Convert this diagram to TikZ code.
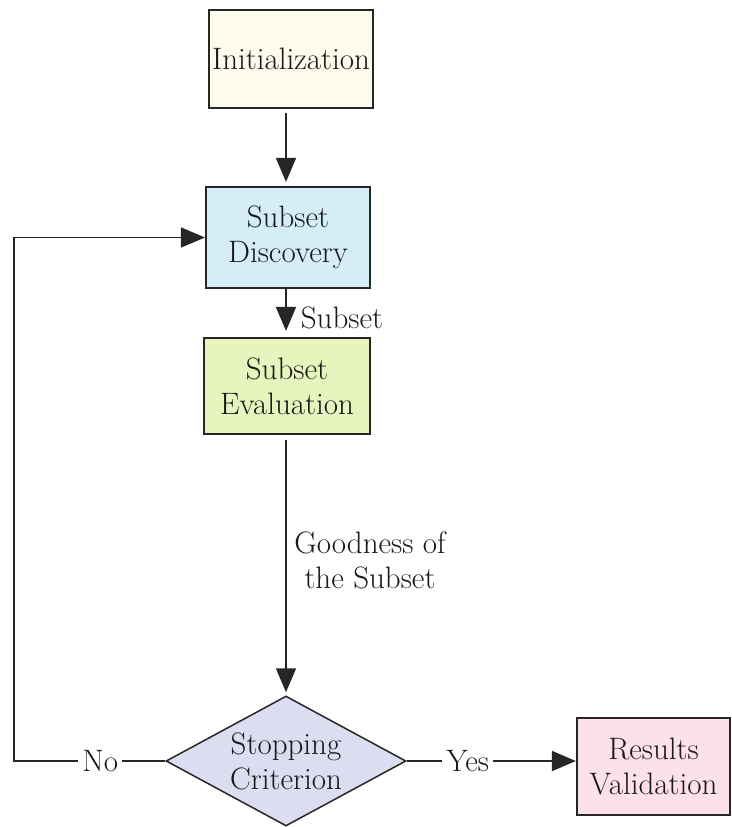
\documentclass[tikz,border=0pt]{standalone}
\usepackage{fontspec}
\usetikzlibrary{arrows.meta,shapes.geometric}
\definecolor{initc}{HTML}{FCFBEC}
\definecolor{discc}{HTML}{D4EDF7}
\definecolor{evalc}{HTML}{E8F4BE}
\definecolor{diac}{HTML}{DDDDF2}
\definecolor{resc}{HTML}{FCE1E8}
\begin{document}
\begin{tikzpicture}[x=1pt,y=-1pt,
  every node/.style={font=\fontsize{31}{35}\selectfont, text=black!90},
  boxnode/.style={draw=black!85, line width=2.2pt, inner sep=0pt, align=center},
  conn/.style={draw=black!85, line width=1.8pt},
  arr/.style={conn, -{Triangle[length=24pt,width=20pt]}},
  lbl/.style={fill=white, inner sep=4pt}]
\useasboundingbox (0,0) rectangle (731,827);
\node[boxnode, fill=initc, minimum width=164pt, minimum height=98pt] (init) at (291,59) {Initialization};
\node[boxnode, fill=discc, minimum width=164pt, minimum height=101pt] (disc) at (288,237.5) {Subset\\Discovery};
\node[boxnode, fill=evalc, minimum width=166pt, minimum height=96pt] (eval) at (287,386) {Subset\\Evaluation};
\node[diamond, draw=black!85, line width=1.5pt, fill=diac, inner sep=0pt, aspect=1.85,
  minimum width=240pt, minimum height=130pt, align=center] (dia) at (286,761) {Stopping\\Criterion};
\node[boxnode, fill=resc, minimum width=153pt, minimum height=97pt] (res) at (653.5,766.5) {Results\\Validation};
\coordinate (nl) at (14,761);
\draw[arr, shorten <=4pt, shorten >=4pt] (init.south -| 286,0) -- (disc.north -| 286,0);
\draw[arr, shorten >=6pt] (disc.south -| 286,0) -- node[right=14pt, pos=0.6, inner sep=0pt] {Subset} (eval.north -| 286,0);
\draw[arr, shorten <=5pt, shorten >=3pt] (eval.south -| 286,0) -- (dia.north);
\node[align=center] (good) at (370,560) {Goodness of\\the Subset};
\draw[arr] (dia.west) -- node[lbl, pos=0.43] {No} (nl) |- (disc.west);
\draw[arr] (dia.east) -- node[lbl, pos=0.36] {Yes} (dia.east -| res.west);
\end{tikzpicture}
\end{document}
